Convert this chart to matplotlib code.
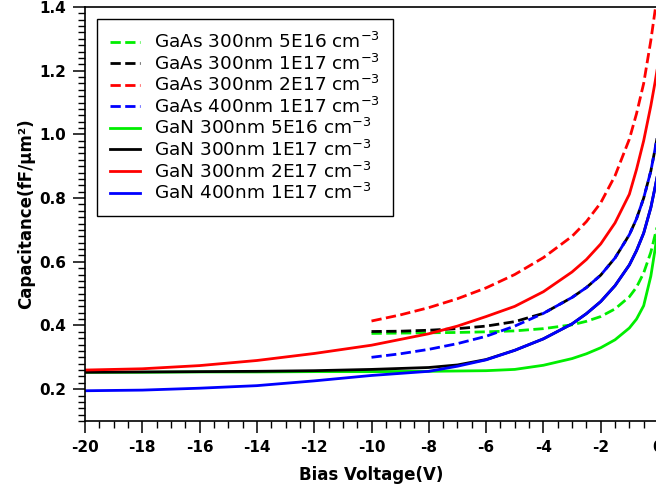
import numpy as np
import matplotlib
matplotlib.use('Agg')
import matplotlib.pyplot as plt
from matplotlib.ticker import MultipleLocator, FormatStrFormatter

plt.rcParams['axes.unicode_minus'] = False
plt.rcParams['font.family'] = 'DejaVu Sans'

# GaN curves, bias sweep -20 V .. 0 V
v_gan = [-20, -18, -16, -14, -12, -10, -8, -7, -6, -5, -4, -3, -2.5, -2, -1.5, -1.0, -0.75, -0.5, -0.25, -0.1, 0]
gan_300_5e16 = [0.253, 0.253, 0.254, 0.254, 0.255, 0.255, 0.256, 0.257, 0.258, 0.262, 0.275, 0.296, 0.311, 0.330,
                0.355, 0.392, 0.420, 0.462, 0.555, 0.640, 0.710]
gan_300_1e17 = [0.253, 0.254, 0.255, 0.256, 0.258, 0.262, 0.268, 0.276, 0.293, 0.322, 0.358, 0.405, 0.437, 0.475,
                0.525, 0.590, 0.635, 0.690, 0.770, 0.835, 0.880]
gan_300_2e17 = [0.260, 0.264, 0.274, 0.290, 0.312, 0.338, 0.374, 0.398, 0.428, 0.460, 0.506, 0.568, 0.607, 0.656,
                0.722, 0.812, 0.890, 0.980, 1.090, 1.165, 1.220]
gan_400_1e17 = [0.195, 0.197, 0.203, 0.211, 0.226, 0.243, 0.256, 0.272, 0.292, 0.322, 0.358, 0.405, 0.437, 0.475,
                0.525, 0.590, 0.635, 0.690, 0.770, 0.835, 0.880]

# GaAs curves, bias sweep -10 V .. 0 V
v_gaas = [-10, -9, -8, -7, -6, -5, -4, -3, -2.5, -2, -1.5, -1.0, -0.75, -0.5, -0.25, -0.1, 0]
gaas_300_5e16 = [0.375, 0.376, 0.377, 0.378, 0.380, 0.383, 0.390, 0.402, 0.413, 0.428, 0.452, 0.490, 0.520, 0.565,
                 0.630, 0.685, 0.720]
gaas_300_1e17 = [0.381, 0.382, 0.385, 0.390, 0.398, 0.412, 0.438, 0.488, 0.519, 0.558, 0.612, 0.685, 0.735, 0.800,
                 0.885, 0.955, 1.005]
gaas_300_2e17 = [0.414, 0.433, 0.456, 0.484, 0.518, 0.560, 0.613, 0.680, 0.726, 0.785, 0.870, 0.985, 1.065, 1.160,
                 1.295, 1.390, 1.450]
gaas_400_1e17 = [0.300, 0.311, 0.325, 0.343, 0.366, 0.398, 0.438, 0.488, 0.519, 0.558, 0.612, 0.685, 0.735, 0.800,
                 0.885, 0.955, 1.005]

green = '#00ee00'
lw = 2.0

fig = plt.figure(figsize=(6.56, 4.90), dpi=100)
ax = fig.add_axes([85/656, 1 - 421/490, 573/656, 414/490])

ax.plot(v_gaas, gaas_300_5e16, '--', color=green, lw=lw, label='GaAs 300nm 5E16 cm$^{-3}$')
ax.plot(v_gaas, gaas_300_1e17, '--', color='black', lw=lw, label='GaAs 300nm 1E17 cm$^{-3}$')
ax.plot(v_gaas, gaas_300_2e17, '--', color='red', lw=lw, label='GaAs 300nm 2E17 cm$^{-3}$')
ax.plot(v_gaas, gaas_400_1e17, '--', color='blue', lw=lw, label='GaAs 400nm 1E17 cm$^{-3}$')
ax.plot(v_gan, gan_300_5e16, '-', color=green, lw=lw, label='GaN 300nm 5E16 cm$^{-3}$')
ax.plot(v_gan, gan_300_1e17, '-', color='black', lw=lw, label='GaN 300nm 1E17 cm$^{-3}$')
ax.plot(v_gan, gan_300_2e17, '-', color='red', lw=lw, label='GaN 300nm 2E17 cm$^{-3}$')
ax.plot(v_gan, gan_400_1e17, '-', color='blue', lw=lw, label='GaN 400nm 1E17 cm$^{-3}$')

ax.set_xlim(-20, 0)
ax.set_ylim(0.1, 1.4)
ax.xaxis.set_major_locator(MultipleLocator(2))
ax.xaxis.set_minor_locator(MultipleLocator(0.5))
ax.yaxis.set_major_locator(MultipleLocator(0.2))
ax.yaxis.set_minor_locator(MultipleLocator(0.02))
ax.yaxis.set_major_formatter(FormatStrFormatter('%.1f'))
ax.xaxis.set_major_formatter(FormatStrFormatter('%d'))

ax.tick_params(which='major', direction='out', length=8.5, width=1.1, labelsize=11, pad=5)
ax.tick_params(which='minor', direction='out', length=5, width=1.0)
ax.tick_params(top=False, right=False)
for lab in ax.get_xticklabels() + ax.get_yticklabels():
    lab.set_fontweight('bold')
for s in ax.spines.values():
    s.set_linewidth(1.2)

ax.set_xlabel('Bias Voltage(V)', fontsize=12, fontweight='bold', labelpad=8)
ax.set_ylabel('Capacitance(fF/μm²)', fontsize=12, fontweight='bold', labelpad=3)

leg = ax.legend(loc='upper left', bbox_to_anchor=(0.021, 0.971), borderaxespad=0, fontsize=13.3,
                frameon=True, fancybox=False, edgecolor='black', framealpha=1,
                handlelength=1.6, handletextpad=0.8, labelspacing=0.08, borderpad=0.7)
leg.get_frame().set_linewidth(1.0)

fig.savefig('out.png', dpi=100)
